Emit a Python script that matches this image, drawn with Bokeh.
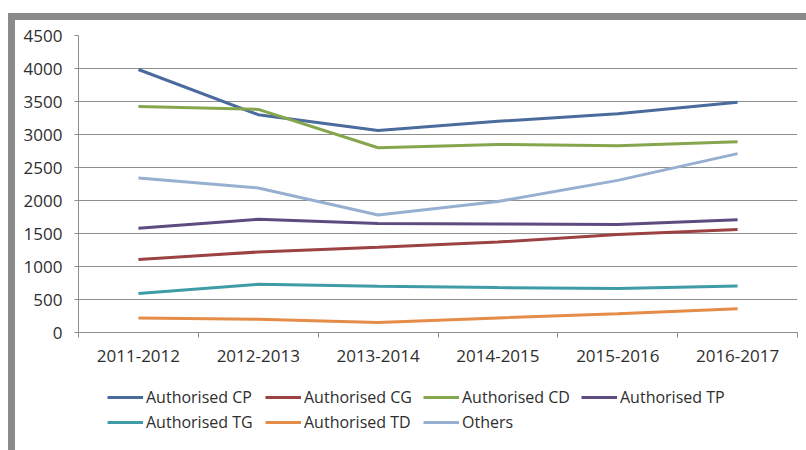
from bokeh.plotting import figure
from bokeh.models import Range1d, FixedTicker, Legend, LegendItem, Div
from bokeh.layouts import column, row
from bokeh.embed import file_html
from bokeh.resources import INLINE

years = ["2011-2012", "2012-2013", "2013-2014", "2014-2015", "2015-2016", "2016-2017"]
authorised_cp = [3985, 3300, 3060, 3200, 3315, 3490]
authorised_cg = [1105, 1220, 1290, 1370, 1485, 1560]
authorised_cd = [3425, 3380, 2800, 2850, 2830, 2890]
authorised_tp = [1580, 1715, 1650, 1645, 1635, 1710]
authorised_tg = [590, 730, 700, 680, 665, 705]
authorised_td = [220, 200, 150, 220, 285, 360]
others = [2340, 2190, 1780, 1985, 2305, 2710]
y_ticks = [0, 500, 1000, 1500, 2000, 2500, 3000, 3500, 4000, 4500]

series = [
    ("Authorised CP", authorised_cp, "#4a6b9c"),
    ("Authorised CG", authorised_cg, "#9c4242"),
    ("Authorised CD", authorised_cd, "#86a64e"),
    ("Authorised TP", authorised_tp, "#5e4c80"),
    ("Authorised TG", authorised_tg, "#3f9ca6"),
    ("Authorised TD", authorised_td, "#e48c48"),
    ("Others", others, "#97afd0"),
]

xs = [i + 0.5 for i in range(len(years))]

p = figure(width=791, height=360, output_backend="svg", toolbar_location=None,
           x_range=Range1d(0, len(years)), y_range=Range1d(0, 4500),
           min_border_left=63, min_border_right=9, min_border_top=15, min_border_bottom=48,
           margin=0)
p.outline_line_color = None
p.background_fill_color = "white"
p.border_fill_color = "white"

FONT = "Open Sans"
TXT = "#2e2e2e"
GRID = "#8e8e8e"

# x axis
p.xaxis.ticker = FixedTicker(ticks=xs, minor_ticks=list(range(len(years) + 1)))
p.xaxis.major_label_overrides = {x: y for x, y in zip(xs, years)}
p.xaxis.major_tick_out = 0
p.xaxis.major_tick_in = 0
p.xaxis.minor_tick_out = 5
p.xaxis.minor_tick_in = 0
p.xaxis.minor_tick_line_color = GRID
p.xaxis.axis_line_color = GRID
p.xaxis.major_label_text_font = FONT
p.xaxis.major_label_text_font_size = "17px"
p.xaxis.major_label_text_color = TXT
p.xaxis.major_label_standoff = 12

# y axis
p.yaxis.ticker = FixedTicker(ticks=y_ticks, minor_ticks=[])
p.yaxis.major_tick_out = 4
p.yaxis.major_tick_in = 0
p.yaxis.major_tick_line_color = GRID
p.yaxis.axis_line_color = GRID
p.yaxis.major_label_text_font = FONT
p.yaxis.major_label_text_font_size = "17px"
p.yaxis.major_label_text_color = TXT
p.yaxis.major_label_standoff = 12

p.xgrid.grid_line_color = None
p.ygrid.grid_line_color = GRID
p.ygrid.grid_line_width = 1

for name, vals, col in series:
    p.line(xs, vals, line_color=col, line_width=3)

# legend drawn in its own small figure under the chart
lg = figure(width=791, height=70, output_backend="svg", toolbar_location=None,
            x_range=Range1d(0, 1), y_range=Range1d(0, 1),
            x_axis_location=None, y_axis_location=None, min_border=0, margin=0)
lg.outline_line_color = None
lg.grid.grid_line_color = None
lg.background_fill_color = "white"
lg.border_fill_color = "white"
items = []
nan = float("nan")
for name, vals, col in series:
    r = lg.line([nan], [nan], line_color=col, line_width=3)
    items.append(LegendItem(label=name, renderers=[r]))

legend = Legend(items=items, location=(29, 17), orientation="horizontal", ncols=4,
                label_text_font=FONT, label_text_font_size="16px", label_text_color=TXT,
                glyph_width=36, glyph_height=20, label_height=20, label_width=116,
                label_standoff=3, spacing=3, padding=0, margin=0,
                border_line_color=None, background_fill_alpha=0)
lg.add_layout(legend, "center")

# decorative grey frame of the original picture
GREY = "#8a8a8a"
top_bar = Div(text="", width=798, height=7, margin=0,
              styles={"background-color": GREY})
left_bar = Div(text="", width=7, height=430, margin=0,
               styles={"background-color": GREY})
layout = column(top_bar,
                row(left_bar, column(p, lg, margin=0, spacing=0), margin=0, spacing=0),
                margin=(13, 0, 0, 8), spacing=0)

open("out.html", "w").write(file_html(layout, INLINE))
